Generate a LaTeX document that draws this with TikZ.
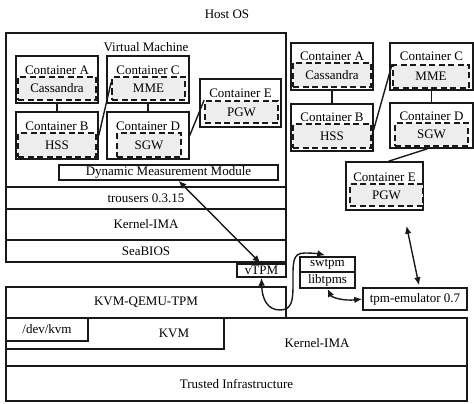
\documentclass[tikz,border=0pt]{standalone}
\usepackage{fontspec}
\setmainfont{Liberation Serif}
\usetikzlibrary{arrows.meta,calc}
\newcommand\fs{\fontsize{13}{15}\selectfont}
\newcommand\rbox[7]{%
  \pgfmathsetmacro\rbCX{(#3+#5)/2}%
  \pgfmathsetmacro\rbCY{(#4+#6)/2}%
  \pgfmathsetmacro\rbW{#5-#3}%
  \pgfmathsetmacro\rbH{#6-#4}%
  \node[#2, minimum width=\rbW pt, minimum height=\rbH pt] (#1) at (\rbCX,\rbCY) {#7};}
\tikzset{
  box/.style={draw=black!90, line width=1.5pt, fill=white, inner sep=0pt, font=\fs},
  dbox/.style={draw=black!90, line width=1.8pt, dash pattern=on 6pt off 3.5pt, fill=black!7, inner sep=0pt, font=\fs},
  lbl/.style={inner sep=0pt, font=\fs},
  link/.style={draw=black!90, line width=1.4pt},
  arr/.style={draw=black!90, line width=1.4pt, {Latex[length=8pt,width=6.5pt]}-{Latex[length=8pt,width=6.5pt]}}
}
\begin{document}
\begin{tikzpicture}[x=1pt,y=-1pt]
\useasboundingbox (0,0) rectangle (474,404);
\node[lbl] (host) at (227,14) {Host OS};
% Virtual machine
\rbox{vm}{box}{6}{33}{286}{187}{}
\node[lbl] (vmlbl) at (146,47) {Virtual Machine};
\rbox{ca}{box}{16}{56}{98}{103}{}
\node[lbl] (calbl) at (57,70) {Container A};
\rbox{cas}{dbox}{18}{77}{96}{100}{Cassandra}
\rbox{cb}{box}{16}{112}{98}{159}{}
\node[lbl] (cblbl) at (57,126) {Container B};
\rbox{hss}{dbox}{18}{133}{96}{157}{HSS}
\rbox{cc}{box}{107}{56}{189}{103}{}
\node[lbl] (cclbl) at (148,70) {Container C};
\rbox{mme}{dbox}{112}{77}{185}{100}{MME}
\rbox{cd}{box}{107}{112}{189}{159}{}
\node[lbl] (cdlbl) at (148,126) {Container D};
\rbox{sgw}{dbox}{117}{133}{181}{157}{SGW}
\rbox{ce}{box}{200}{79}{281}{127}{}
\node[lbl] (celbl) at (240.5,93) {Container E};
\rbox{pgw}{dbox}{205}{101}{278}{123}{PGW}
\rbox{dmm}{box}{59}{165}{278}{180}{Dynamic Measurement Module}
\rbox{trousers}{box}{6}{187}{286}{209}{trousers 0.3.15}
\rbox{kimavm}{box}{6}{209}{286}{240}{Kernel-IMA}
\rbox{seabios}{box}{6}{240}{286}{262}{SeaBIOS}
\rbox{vtpm}{box}{237}{264}{286}{277}{vTPM}
% host stack
\rbox{kqt}{box}{6}{287}{286}{318}{KVM-QEMU-TPM}
\rbox{kima}{box}{6}{318}{467}{366}{}
\node[lbl] (kimalbl) at (317,343) {Kernel-IMA};
\rbox{kvm}{box}{6}{318}{224}{349}{}
\node[lbl] (kvmlbl) at (174,333) {KVM};
\rbox{devkvm}{box}{6}{318}{88}{341}{/dev/kvm}
\rbox{ti}{box}{6}{366}{467}{401}{Trusted Infrastructure}
% right containers
\rbox{ca2}{box}{291}{43}{373}{90}{}
\node[lbl] (ca2lbl) at (332,56) {Container A};
\rbox{cas2}{dbox}{293}{63}{371}{87}{Cassandra}
\rbox{cb2}{box}{291}{104}{373}{151}{}
\node[lbl] (cb2lbl) at (332,117) {Container B};
\rbox{hss2}{dbox}{293}{124}{371}{148}{HSS}
\rbox{cc2}{box}{390}{43}{473}{90}{}
\node[lbl] (cc2lbl) at (431.5,56) {Container C};
\rbox{mme2}{dbox}{393}{65}{469}{88}{MME}
\rbox{cd2}{box}{390}{103}{473}{148}{}
\node[lbl] (cd2lbl) at (431.5,116) {Container D};
\rbox{sgw2}{dbox}{395}{123}{468}{146}{SGW}
\rbox{ce2}{box}{346}{162}{423}{210}{}
\node[lbl] (ce2lbl) at (384.5,177) {Container E};
\rbox{pgw2}{dbox}{350}{184}{423}{206}{PGW}
% emulators
\rbox{swtpm}{box}{300}{257}{355}{272}{swtpm}
\rbox{libtpms}{box}{300}{272}{355}{288}{libtpms}
\rbox{tpm}{box}{363}{288}{467}{310}{tpm-emulator 0.7}
% links
\draw[link] (ca.south) -- (cb.north);
\draw[link] (cb.east) -- ([yshift=6pt]mme.west);
\draw[link] (cc.south) -- (cd.north);
\draw[link] (cd.east) -- (pgw.north west);
\draw[link] (ca2.south) -- (cb2.north);
\draw[link] (hss2.east) -- (mme2.north west);
\draw[link] (cc2.south) -- (cd2.north);
\draw[link] ([xshift=-4pt]cd2.south) -- ([xshift=4pt]ce2.north);
% arrows
\draw[arr] ([xshift=10pt]dmm.south) -- ([xshift=-1pt]vtpm.north);
\draw[arr] ([xshift=4pt,yshift=2pt]tpm.north) -- ([xshift=22pt,yshift=-15pt]ce2.south);
\draw[arr] (vtpm.south) .. controls (262,300) and (268,310) .. (280,310)
  .. controls (292,310) and (293,300) .. (293,285)
  .. controls (293,262) and (292,253) .. (305,253)
  .. controls (314,253) and (320,254) .. ([xshift=26pt,yshift=1pt]swtpm.north west);
\draw[arr] (libtpms.south) .. controls (332,298) and (345,301) .. (tpm.west);
\end{tikzpicture}
\end{document}
